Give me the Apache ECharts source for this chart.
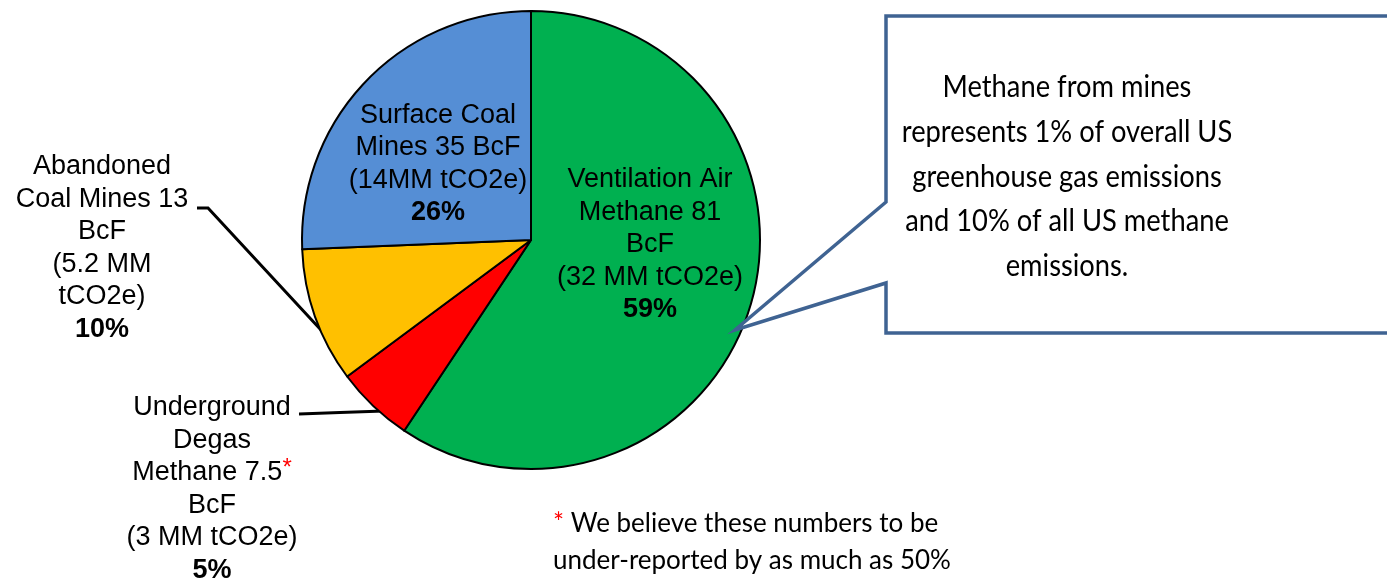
<!DOCTYPE html>
<html>
<head>
<meta charset="utf-8">
<script src="https://cdn.jsdelivr.net/npm/echarts@6/dist/echarts.min.js"></script>
<style>
  html, body { margin: 0; padding: 0; background: #fff; }
  #chart { width: 1387px; height: 579px; }
</style>
</head>
<body>
<div id="chart"></div>
<script>
// données du camembert (sens horaire depuis midi)
const sources = ['Ventilation Air Methane', 'Underground Degas Methane', 'Abandoned Coal Mines', 'Surface Coal Mines'];
const bcf = [81, 7.5, 13, 35];
const pcts = ['59%', '5%', '10%', '26%'];
const labelTexts = [
  'Ventilation Air\nMethane 81\nBcF\n(32 MM tCO2e)',
  'Underground\nDegas\nMethane 7.5{r|*}\nBcF\n(3 MM tCO2e)',
  'Abandoned\nCoal Mines 13\nBcF\n(5.2 MM\ntCO2e)',
  'Surface Coal\nMines 35 BcF\n(14MM tCO2e)'
];
const colors = ['#00b050', '#ff0000', '#ffc000', '#558ed5'];
const calloutLines = [
  'Methane from mines',
  'represents 1% of overall US',
  'greenhouse gas emissions',
  'and 10% of all US methane',
  'emissions.'
];
const footnote = ['We believe these numbers to be', 'under-reported by as much as 50%'];

// placement des étiquettes
const labelPlaces = [
  { x: 650, y: 245, align: 'center', verticalAlign: 'middle' },
  { x: 212, y: 489, align: 'center', verticalAlign: 'middle',
    labelLinePoints: [[384, 411], [340, 412.5], [299, 414]] },
  { x: 102, y: 248, align: 'center', verticalAlign: 'middle',
    labelLinePoints: [[321, 330], [208, 208], [197, 208]] },
  { x: 438, y: 164, align: 'center', verticalAlign: 'middle' }
];

const chart = echarts.init(document.getElementById('chart'));

const pieData = sources.map((name, i) => {
  const outside = i === 1 || i === 2;
  return {
    name: name,
    value: bcf[i],
    itemStyle: { color: colors[i] },
    label: { position: outside ? 'outside' : 'inside' },
    labelLine: { show: outside }
  };
});

chart.setOption({
  animation: false,
  series: [{
    type: 'pie',
    center: [531, 240],
    radius: 229,
    startAngle: 90,
    clockwise: true,
    avoidLabelOverlap: false,
    silent: true,
    itemStyle: { borderColor: '#000', borderWidth: 2 },
    label: {
      show: true,
      color: '#000',
      fontFamily: '"Liberation Sans", Arial, sans-serif',
      fontSize: 27,
      lineHeight: 32.5,
      align: 'center',
      formatter: p => labelTexts[p.dataIndex] + '\n{b|' + pcts[p.dataIndex] + '}',
      rich: {
        b: { fontWeight: 'bold', fontSize: 27, lineHeight: 32.5, color: '#000',
             fontFamily: '"Liberation Sans", Arial, sans-serif' },
        r: { color: '#ff0000', fontSize: 24, lineHeight: 32.5, verticalAlign: 'top',
             fontFamily: '"Liberation Sans", Arial, sans-serif' }
      }
    },
    labelLine: { lineStyle: { color: '#000', width: 3 } },
    labelLayout: p => labelPlaces[p.dataIndex],
    data: pieData
  }],
  graphic: [
    {
      type: 'polygon',
      z: 10,
      shape: {
        points: [[886, 16], [1400, 16], [1400, 333], [886, 333], [886, 283], [735, 330], [886, 202]]
      },
      style: { fill: '#fff', stroke: '#3f6392', lineWidth: 3.5, lineJoin: 'miter' }
    },
    {
      type: 'text',
      z: 11,
      x: 1067,
      y: 177,
      scaleX: 0.91,
      style: {
        text: calloutLines.join('\n'),
        fontFamily: 'Lato, "Open Sans", sans-serif',
        fontSize: 30,
        lineHeight: 44.7,
        fill: '#000',
        align: 'center',
        verticalAlign: 'middle'
      }
    },
    {
      type: 'text',
      z: 11,
      x: 553,
      y: 542,
      style: {
        text: '{r|*} ' + footnote[0] + '\n' + footnote[1],
        fontFamily: 'Lato, "Open Sans", sans-serif',
        fontSize: 26,
        lineHeight: 37,
        fill: '#000',
        align: 'left',
        verticalAlign: 'middle',
        rich: {
          r: { fill: '#ff0000', fontSize: 26, lineHeight: 37, fontFamily: 'Lato, sans-serif' }
        }
      }
    }
  ]
});
</script>
</body>
</html>
